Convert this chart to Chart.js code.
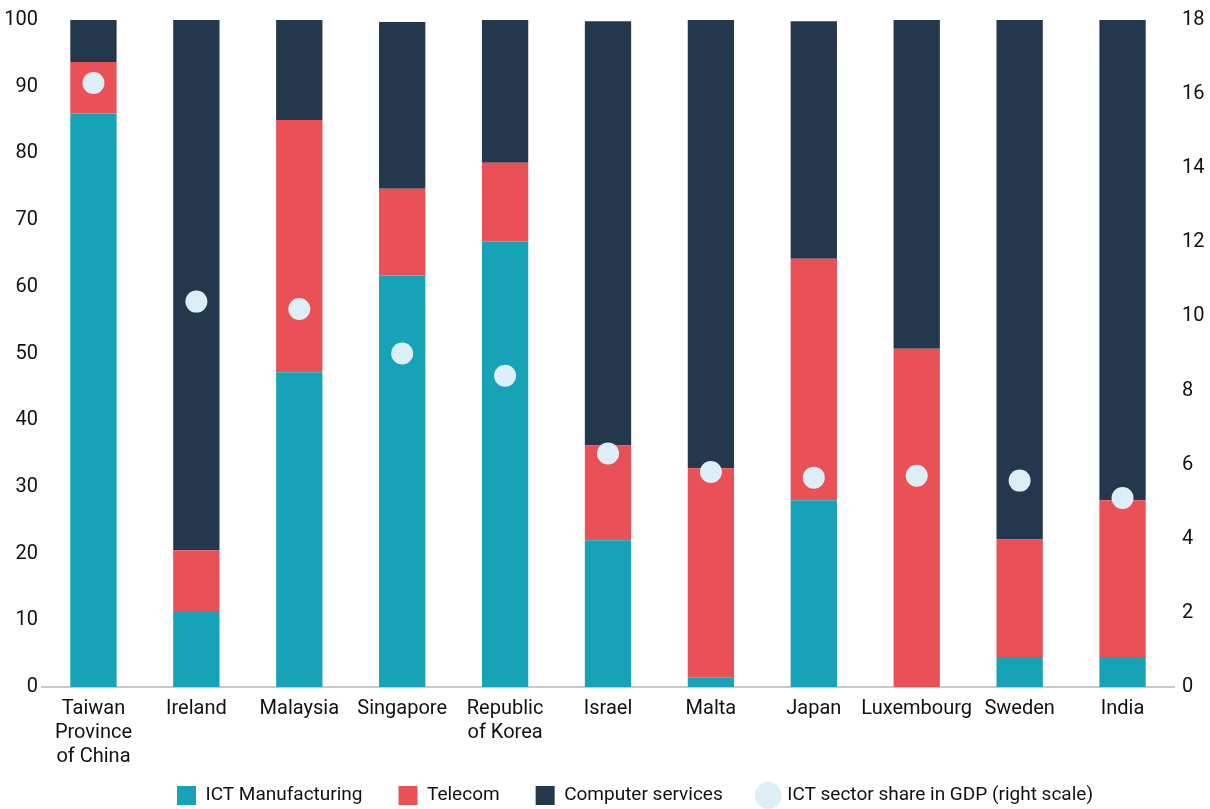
<!DOCTYPE html>
<html>
<head>
<meta charset="utf-8">
<script src="https://cdn.jsdelivr.net/npm/chart.js@4"></script>
<style>
  body { margin: 0; background: #fff; }
  #wrap { width: 1210px; height: 809px; }
</style>
</head>
<body>
<div id="wrap"><canvas id="ictChart"></canvas></div>
<script>
const countries = [
    ['Taiwan', 'Province', 'of China'], 'Ireland', 'Malaysia', 'Singapore',
    ['Republic', 'of Korea'], 'Israel', 'Malta', 'Japan', 'Luxembourg', 'Sweden', 'India'
];
const ictManufacturing = [86.0, 11.4, 47.2, 61.7, 66.8, 22.0, 1.4, 28.0, 0, 4.5, 4.5];
const telecom = [7.7, 9.1, 37.8, 13.0, 11.8, 14.2, 31.4, 36.2, 50.7, 17.6, 23.5];
const computerServices = [6.3, 79.5, 15.0, 25.0, 21.4, 63.6, 67.2, 35.6, 49.3, 77.9, 72.0];
const gdpShare = [16.3, 10.4, 10.2, 9.0, 8.4, 6.3, 5.8, 5.65, 5.7, 5.57, 5.1];

const font = "'Liberation Sans Narrow', 'Arial Narrow', Roboto, sans-serif";

// legend sits partly under the 3-line country labels, and a bit right of centre
const LEGEND_OVERLAP = 24;
const legendTweak = {
    id: 'legendTweak',
    beforeLayout(chart) {
        const lg = chart.legend;
        if (lg && !lg._tweaked) {
            const fit = lg.fit.bind(lg);
            lg.fit = function () { fit(); this.height -= LEGEND_OVERLAP; };
            lg._tweaked = true;
        }
    },
    afterLayout(chart) {
        const lg = chart.legend;
        lg.top -= LEGEND_OVERLAP;
        lg.left += 30;
        lg.right += 30;
    }
};

document.addEventListener('DOMContentLoaded', () => {
    const ctx = document.getElementById('ictChart').getContext('2d');

    new Chart(ctx, {
        type: 'bar',
        data: {
            labels: countries,
            datasets: [
                {
                    label: 'ICT Manufacturing',
                    data: ictManufacturing,
                    backgroundColor: '#16a3b8',
                    pointStyle: 'rect',
                    stack: 's',
                    order: 1
                },
                {
                    label: 'Telecom',
                    data: telecom,
                    backgroundColor: '#ea5156',
                    pointStyle: 'rect',
                    stack: 's',
                    order: 1
                },
                {
                    label: 'Computer services',
                    data: computerServices,
                    backgroundColor: '#24384d',
                    pointStyle: 'rect',
                    stack: 's',
                    order: 1
                },
                {
                    type: 'line',
                    label: 'ICT sector share in GDP (right scale)',
                    data: gdpShare,
                    yAxisID: 'y2',
                    showLine: false,
                    pointStyle: 'circle',
                    pointRadius: 11,
                    pointHoverRadius: 11,
                    backgroundColor: '#deeef6',
                    borderColor: '#deeef6',
                    borderWidth: 0,
                    order: 0
                }
            ]
        },
        options: {
            responsive: true,
            maintainAspectRatio: false,
            animation: false,
            layout: { padding: { top: 6, left: 0, right: 0, bottom: -6 } },
            datasets: {
                bar: { barPercentage: 0.9, categoryPercentage: 0.5 }
            },
            scales: {
                x: {
                    stacked: true,
                    grid: { display: false, drawTicks: false },
                    border: { display: true, color: '#c8c8c8', width: 2 },
                    ticks: { color: '#111', font: { family: font, size: 20 }, padding: 10, maxRotation: 0, autoSkip: false },
                    afterFit: (s) => { s.height = 87; }
                },
                y: {
                    stacked: true,
                    min: 0,
                    max: 100,
                    grid: { display: false, drawTicks: false },
                    border: { display: false },
                    ticks: { stepSize: 10, color: '#111', font: { family: font, size: 20 }, padding: 4 },
                    afterFit: (s) => { s.width = 42; }
                },
                y2: {
                    position: 'right',
                    min: 0,
                    max: 18,
                    grid: { display: false, drawTicks: false },
                    border: { display: false },
                    ticks: { stepSize: 2, color: '#111', font: { family: font, size: 20 }, padding: 8 },
                    afterFit: (s) => { s.width = 36; }
                }
            },
            plugins: {
                tooltip: { enabled: false },
                legend: {
                    position: 'bottom',
                    labels: {
                        usePointStyle: true,
                        boxHeight: 19,
                        color: '#111',
                        padding: 36,
                        font: { family: font, size: 19 },
                        sort: (a, b) => a.datasetIndex - b.datasetIndex
                    }
                }
            }
        },
        plugins: [legendTweak]
    });
});
</script>
</body>
</html>
